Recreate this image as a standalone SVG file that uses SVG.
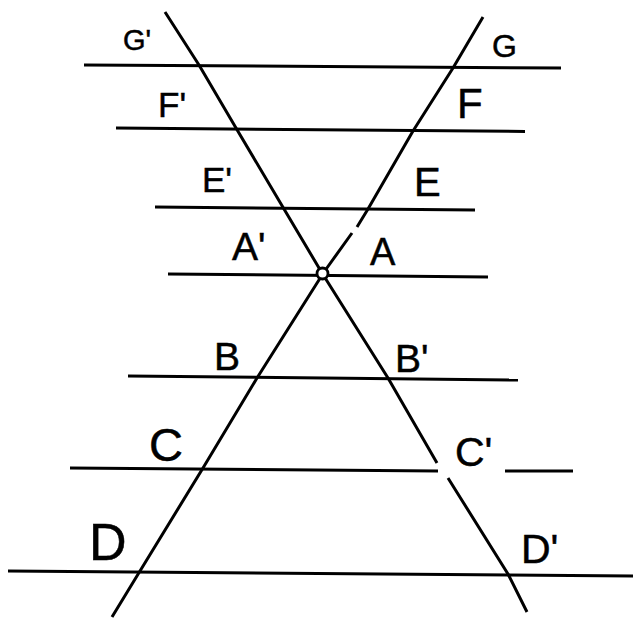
<svg xmlns="http://www.w3.org/2000/svg" width="633" height="619" viewBox="0 0 633 619">
<style>
.ln{fill:none;stroke:#000;stroke-width:3;stroke-linecap:butt;stroke-linejoin:round}
.lb{font-family:"Liberation Sans",Arial,sans-serif;fill:#000;stroke:#000;stroke-width:0.5}
</style>
<rect width="633" height="619" fill="#fff"/>
<g id="connectors">
<g id="parallels">
<line class="ln" x1="84" y1="65" x2="561" y2="68"/>
<line class="ln" x1="116" y1="128" x2="525" y2="131.5"/>
<line class="ln" x1="155" y1="207" x2="475" y2="210"/>
<line class="ln" x1="168" y1="274" x2="488" y2="277"/>
<line class="ln" x1="128" y1="376" x2="518" y2="380"/>
<line class="ln" x1="70" y1="468" x2="438" y2="471"/>
<line class="ln" x1="505" y1="471" x2="573" y2="471"/>
<line class="ln" x1="8" y1="571" x2="633" y2="576"/>
</g>
<g id="transversal-1">
<polyline class="ln" points="165,12 199,65 236,128 284,209 322,273 388,378 437,463"/>
<polyline class="ln" points="448,478 508,574 527,612"/>
</g>
<g id="transversal-2">
<polyline class="ln" points="483,17 453,68 413,131 368,209 357,227"/>
<polyline class="ln" points="352,233 324,272 257,378 203,468 140,571 112,617"/>
</g>
</g>
<g id="center">
<circle cx="322.5" cy="273.5" r="5.5" fill="#fff" stroke="#000" stroke-width="2.8"/>
</g>
<g id="labels">
<g id="label-G1"><text class="lb" x="123" y="50" font-size="29">G'</text></g>
<g id="label-G"><text class="lb" x="492" y="57" font-size="32">G</text></g>
<g id="label-F1"><text class="lb" x="158" y="117" font-size="35">F'</text></g>
<g id="label-F"><text class="lb" x="457" y="118" font-size="42">F</text></g>
<g id="label-E1"><text class="lb" x="202" y="192" font-size="35">E'</text></g>
<g id="label-E"><text class="lb" x="414" y="196" font-size="40">E</text></g>
<g id="label-A1"><text class="lb" x="232" y="260" font-size="39">A'</text></g>
<g id="label-A"><text class="lb" x="370" y="265" font-size="38">A</text></g>
<g id="label-B"><text class="lb" x="214" y="370" font-size="39">B</text></g>
<g id="label-B1"><text class="lb" x="395" y="372" font-size="39">B'</text></g>
<g id="label-C"><text class="lb" x="149" y="461" font-size="47">C</text></g>
<g id="label-C1"><text class="lb" x="455" y="466" font-size="41">C'</text></g>
<g id="label-D"><text class="lb" x="89" y="560" font-size="52">D</text></g>
<g id="label-D1"><text class="lb" x="521" y="563" font-size="41">D'</text></g>
</g>
</svg>
